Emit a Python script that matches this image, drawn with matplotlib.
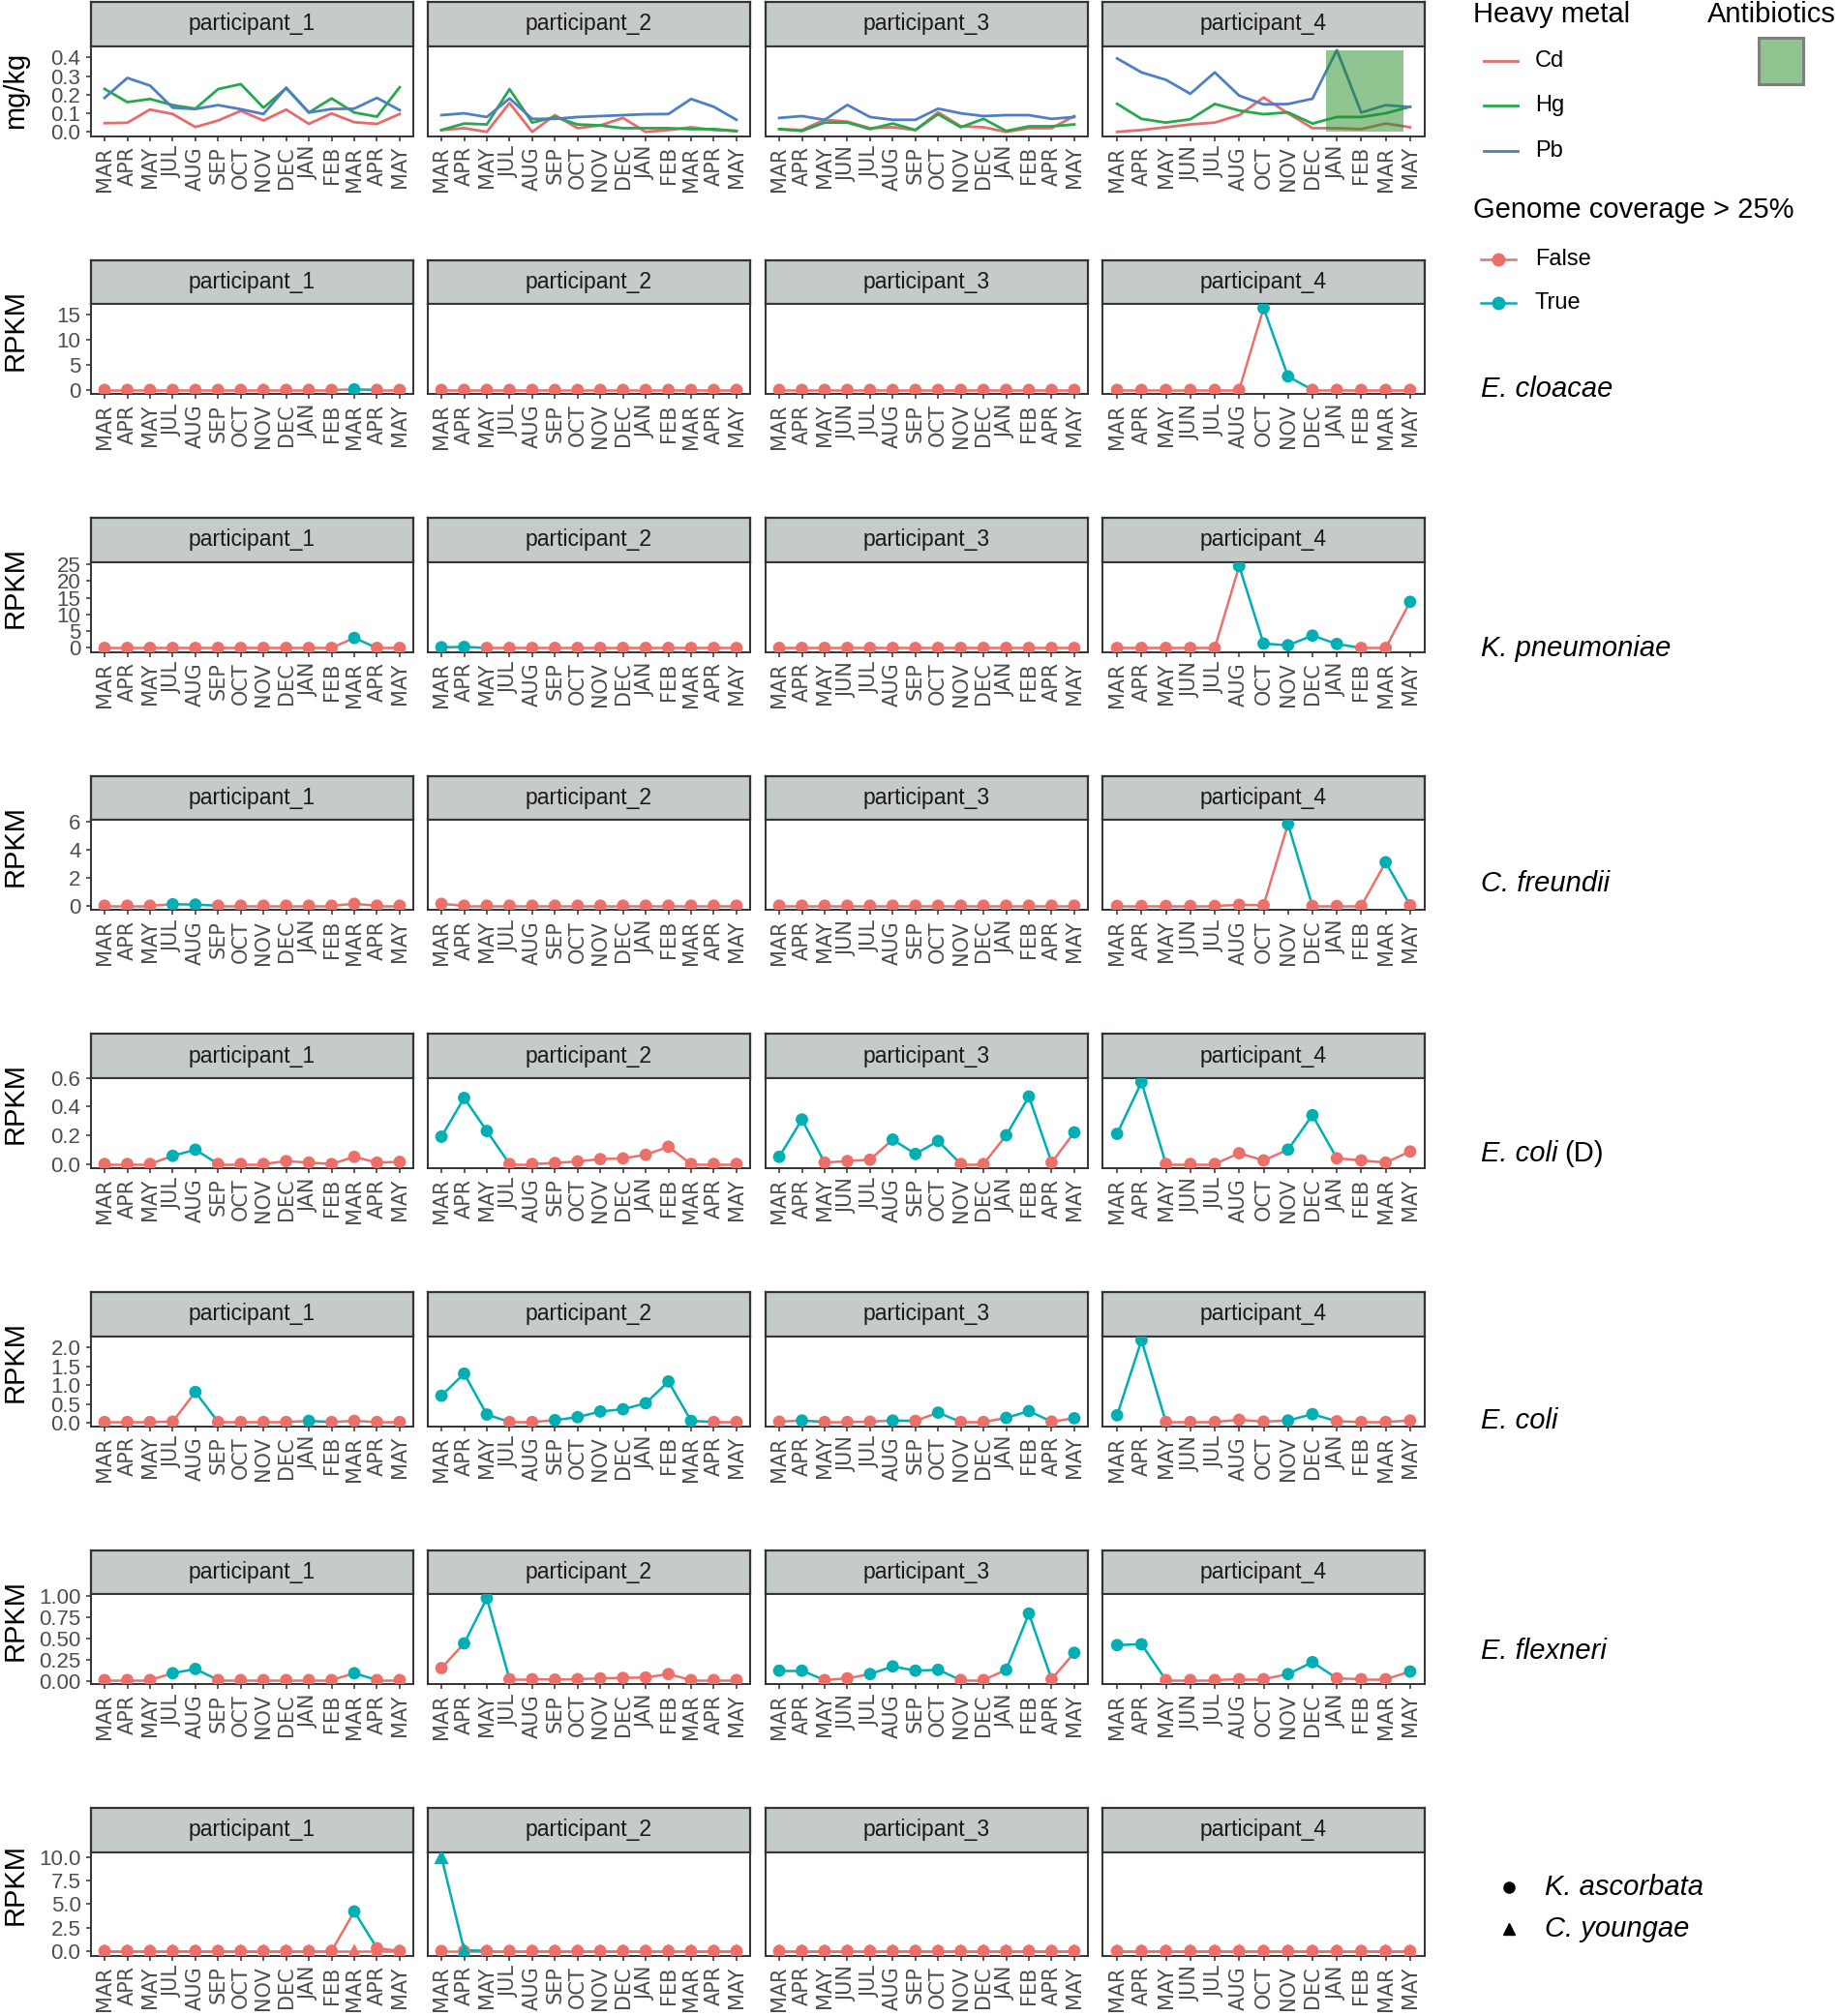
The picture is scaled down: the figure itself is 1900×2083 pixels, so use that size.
import numpy as np
import matplotlib
matplotlib.use("Agg")
import matplotlib.pyplot as plt
from matplotlib.patches import Rectangle
from matplotlib.lines import Line2D
from matplotlib.text import Annotation

plt.rcParams['font.family'] = ['Liberation Sans', 'DejaVu Sans']

# ---- data ----
participants = ['participant_1', 'participant_2', 'participant_3', 'participant_4']
months_p1 = ['MAR', 'APR', 'MAY', 'JUL', 'AUG', 'SEP', 'OCT', 'NOV', 'DEC', 'JAN', 'FEB', 'MAR', 'APR', 'MAY']
months_p2 = ['MAR', 'APR', 'MAY', 'JUL', 'AUG', 'SEP', 'OCT', 'NOV', 'DEC', 'JAN', 'FEB', 'MAR', 'APR', 'MAY']
months_p3 = ['MAR', 'APR', 'MAY', 'JUN', 'JUL', 'AUG', 'SEP', 'OCT', 'NOV', 'DEC', 'JAN', 'FEB', 'APR', 'MAY']
months_p4 = ['MAR', 'APR', 'MAY', 'JUN', 'JUL', 'AUG', 'OCT', 'NOV', 'DEC', 'JAN', 'FEB', 'MAR', 'MAY']
months = [months_p1, months_p2, months_p3, months_p4]

# heavy metals (mg/kg), one list per participant
cd = [[0.047, 0.049, 0.12, 0.096, 0.026, 0.061, 0.113, 0.061, 0.12, 0.043, 0.099, 0.052, 0.043, 0.096],
      [0.01, 0.02, 0.0, 0.155, 0.0, 0.09, 0.02, 0.035, 0.075, 0.0, 0.01, 0.025, 0.01, 0.005],
      [0.015, 0.01, 0.065, 0.055, 0.02, 0.025, 0.01, 0.105, 0.03, 0.025, 0.0, 0.02, 0.02, 0.085],
      [0.0, 0.01, 0.025, 0.04, 0.05, 0.09, 0.185, 0.10, 0.02, 0.02, 0.015, 0.045, 0.025]]
hg = [[0.231, 0.16, 0.177, 0.144, 0.125, 0.23, 0.257, 0.13, 0.235, 0.104, 0.18, 0.104, 0.082, 0.24],
      [0.01, 0.045, 0.04, 0.23, 0.05, 0.08, 0.04, 0.035, 0.02, 0.02, 0.02, 0.015, 0.015, 0.005],
      [0.015, 0.005, 0.05, 0.05, 0.015, 0.045, 0.01, 0.095, 0.025, 0.07, 0.005, 0.03, 0.03, 0.04],
      [0.151, 0.07, 0.05, 0.068, 0.15, 0.115, 0.095, 0.105, 0.045, 0.08, 0.08, 0.10, 0.135]]
pb = [[0.183, 0.29, 0.249, 0.13, 0.123, 0.144, 0.122, 0.096, 0.238, 0.104, 0.123, 0.125, 0.183, 0.117],
      [0.09, 0.10, 0.08, 0.18, 0.07, 0.07, 0.08, 0.085, 0.09, 0.095, 0.096, 0.177, 0.135, 0.065],
      [0.075, 0.085, 0.065, 0.145, 0.08, 0.065, 0.065, 0.125, 0.10, 0.085, 0.09, 0.09, 0.07, 0.08],
      [0.395, 0.32, 0.28, 0.205, 0.32, 0.195, 0.148, 0.15, 0.178, 0.44, 0.104, 0.144, 0.134]]
metal_names = ['Cd', 'Hg', 'Pb']
metal_colors = ['#E46C6A', '#26A84C', '#4F7EC4']
antibiotics_p4 = (8.55, 11.73)  # on participant_4's month axis

# RPKM rows: values per participant and genome coverage > 25% flags (T/F)
cloacae = [[0, 0, 0, 0, 0, 0, 0, 0, 0, 0, 0, 0.1, 0, 0],
           [0, 0, 0, 0, 0, 0, 0, 0, 0, 0, 0, 0, 0, 0],
           [0, 0, 0, 0, 0, 0, 0, 0, 0, 0, 0, 0, 0, 0],
           [0, 0, 0, 0, 0, 0, 16.3, 2.7, 0, 0, 0, 0, 0]]
cloacae_cov = ['FFFFFFFFFFFTFF', 'FFFFFFFFFFFFFF', 'FFFFFFFFFFFFFF', 'FFFFFFTTFFFFF']

pneumoniae = [[0, 0, 0, 0, 0, 0, 0, 0, 0, 0, 0, 3.0, 0, 0],
              [0.2, 0.3, 0, 0, 0, 0, 0, 0, 0, 0, 0, 0, 0, 0],
              [0, 0, 0, 0, 0, 0, 0, 0, 0, 0, 0, 0, 0, 0],
              [0, 0, 0, 0, 0, 24.5, 1.3, 0.8, 3.7, 1.2, 0, 0, 13.8]]
pneumoniae_cov = ['FFFFFFFFFFFTFF', 'TTFFFFFFFFFFFF', 'FFFFFFFFFFFFFF', 'FFFFFTTTTTFFT']

freundii = [[0.02, 0.02, 0.02, 0.12, 0.1, 0.02, 0.02, 0.02, 0.02, 0.02, 0.02, 0.15, 0.02, 0.02],
            [0.15, 0.02, 0.02, 0.02, 0.02, 0.02, 0.02, 0.02, 0.02, 0.02, 0.02, 0.02, 0.02, 0.02],
            [0.02, 0.02, 0.02, 0.02, 0.02, 0.02, 0.02, 0.02, 0.02, 0.02, 0.02, 0.02, 0.02, 0.02],
            [0, 0, 0, 0, 0, 0.08, 0.05, 5.8, 0, 0, 0, 3.1, 0.05]]
freundii_cov = ['FFFTTFFFFFFFFF', 'FFFFFFFFFFFFFF', 'FFFFFFFFFFFFFF', 'FFFFFFFTFFFTF']

coli_d = [[0.0, 0.0, 0.0, 0.057, 0.10, 0.0, 0.0, 0.0, 0.02, 0.01, 0.0, 0.05, 0.01, 0.015],
          [0.19, 0.46, 0.23, 0.0, 0.0, 0.007, 0.018, 0.034, 0.039, 0.064, 0.12, 0.0, 0.0, 0.0],
          [0.05, 0.31, 0.01, 0.02, 0.03, 0.17, 0.07, 0.16, 0.0, 0.0, 0.2, 0.47, 0.01, 0.22],
          [0.21, 0.57, 0.0, 0.0, 0.0, 0.075, 0.025, 0.10, 0.34, 0.04, 0.025, 0.01, 0.087]]
coli_d_cov = ['FFFTTFFFFFFFFF', 'TTTFFFFFFFFFFF', 'TTFFFTTTFFTTFT', 'TTFFFFFTTFFFF']

coli = [[0.02, 0.02, 0.02, 0.03, 0.82, 0.02, 0.02, 0.02, 0.02, 0.05, 0.02, 0.05, 0.02, 0.02],
        [0.72, 1.31, 0.22, 0.02, 0.02, 0.07, 0.15, 0.30, 0.36, 0.52, 1.10, 0.05, 0.02, 0.02],
        [0.03, 0.06, 0.02, 0.02, 0.03, 0.06, 0.05, 0.27, 0.02, 0.02, 0.13, 0.31, 0.03, 0.12],
        [0.2, 2.2, 0.02, 0.02, 0.02, 0.08, 0.03, 0.06, 0.23, 0.04, 0.02, 0.02, 0.06]]
coli_cov = ['FFFFTFFFFTFFFF', 'TTTFFTTTTTTTFF', 'FTFFFTFTFFTTFT', 'TTFFFFFTTFFFF']

flexneri = [[0.01, 0.01, 0.01, 0.09, 0.14, 0.01, 0.01, 0.01, 0.01, 0.01, 0.01, 0.09, 0.01, 0.01],
            [0.15, 0.44, 0.97, 0.02, 0.02, 0.015, 0.02, 0.03, 0.035, 0.04, 0.08, 0.01, 0.01, 0.01],
            [0.12, 0.12, 0.01, 0.03, 0.08, 0.17, 0.12, 0.13, 0.01, 0.01, 0.13, 0.79, 0.02, 0.33],
            [0.42, 0.43, 0.01, 0.01, 0.01, 0.02, 0.02, 0.08, 0.22, 0.03, 0.02, 0.02, 0.11]]
flexneri_cov = ['FFFTTFFFFFFTFF', 'FTTFFFFFFFFFFF', 'TTFFTTTTFFTTFT', 'TTFFFFFTTFFFT']

ascorbata = [[0, 0, 0, 0, 0, 0, 0, 0, 0, 0, 0, 4.2, 0.3, 0],
             [0, 0, 0, 0, 0, 0, 0, 0, 0, 0, 0, 0, 0, 0],
             [0, 0, 0, 0, 0, 0, 0, 0, 0, 0, 0, 0, 0, 0],
             [0, 0, 0, 0, 0, 0, 0, 0, 0, 0, 0, 0, 0]]
ascorbata_cov = ['FFFFFFFFFFFTFF', 'FFFFFFFFFFFFFF', 'FFFFFFFFFFFFFF', 'FFFFFFFFFFFFF']
youngae = [[0, 0, 0, 0, 0, 0, 0, 0, 0, 0, 0, 0, 0, 0],
           [10.0, 0.1, 0, 0, 0, 0, 0, 0, 0, 0, 0, 0, 0, 0],
           [0, 0, 0, 0, 0, 0, 0, 0, 0, 0, 0, 0, 0, 0],
           [0, 0, 0, 0, 0, 0, 0, 0, 0, 0, 0, 0, 0]]
youngae_cov = ['FFFFFFFFFFFFFF', 'TTFFFFFFFFFFFF', 'FFFFFFFFFFFFFF', 'FFFFFFFFFFFFF']

# rows: list of (values, coverage, marker) series, y ticks, tick labels
rpkm_rows = [
    ([(cloacae, cloacae_cov, 'o')], [0, 5, 10, 15], ['0', '5', '10', '15']),
    ([(pneumoniae, pneumoniae_cov, 'o')], [0, 5, 10, 15, 20, 25], ['0', '5', '10', '15', '20', '25']),
    ([(freundii, freundii_cov, 'o')], [0, 2, 4, 6], ['0', '2', '4', '6']),
    ([(coli_d, coli_d_cov, 'o')], [0, 0.2, 0.4, 0.6], ['0.0', '0.2', '0.4', '0.6']),
    ([(coli, coli_cov, 'o')], [0, 0.5, 1.0, 1.5, 2.0], ['0.0', '0.5', '1.0', '1.5', '2.0']),
    ([(flexneri, flexneri_cov, 'o')], [0, 0.25, 0.5, 0.75, 1.0], ['0.00', '0.25', '0.50', '0.75', '1.00']),
    ([(ascorbata, ascorbata_cov, 'o'), (youngae, youngae_cov, '^')], [0, 2.5, 5, 7.5, 10],
     ['0.0', '2.5', '5.0', '7.5', '10.0']),
]
col_false = '#EC7069'
col_true = '#00AFB3'

# ---- layout (pixels) ----
W, H = 1900, 2083
fig = plt.figure(figsize=(W / 100, H / 100), dpi=100)

panel_x = [(94, 427), (442, 775), (791, 1124), (1139, 1472)]
pitch = 266.6
strip_h = 45.5
dark = '#333333'
tick_col = '#4D4D4D'


def add_ax(x0, y0, x1, y1):
    return fig.add_axes([x0 / W, 1 - y1 / H, (x1 - x0) / W, (y1 - y0) / H])


def style_panel(ax, labels, first, yticks, yticklabels):
    n = len(labels)
    ax.set_xlim(-0.6, n - 1 + 0.6)
    ax.set_xticks(np.arange(n))
    ax.set_xticklabels(labels, rotation=90, ha='center', va='top',
                       fontsize=15, family='DejaVu Sans', color=tick_col)
    if first:
        ax.set_yticks(yticks)
        ax.set_yticklabels(yticklabels, fontsize=16, color=tick_col)
    else:
        ax.set_yticks([])
    ax.tick_params(axis='both', direction='out', length=3.6, width=1.1, color=dark, pad=4)
    for s in ax.spines.values():
        s.set_color(dark)
        s.set_linewidth(1.4)


def add_strip(x0, x1, top, text):
    sa = add_ax(x0, top, x1, top + strip_h)
    sa.set_facecolor('#C5CACA')
    sa.set_xticks([])
    sa.set_yticks([])
    for s in sa.spines.values():
        s.set_color(dark)
        s.set_linewidth(1.6)
    sa.text(0.5, 0.5, text, ha='center', va='center', fontsize=16.5, color='#1A1A1A',
            transform=sa.transAxes)


def ylims(all_vals):
    lo = min(min(v) for v in all_vals)
    hi = max(max(v) for v in all_vals)
    r = hi - lo
    return lo - 0.05 * r, hi + 0.05 * r


# ---- heavy metal row ----
top = 2
hm_lim = ylims(cd + hg + pb)
for p in range(4):
    x0, x1 = panel_x[p]
    add_strip(x0, x1, top, participants[p])
    ax = add_ax(x0, top + strip_h, x1, top + strip_h + 93)
    xs = np.arange(len(months[p]))
    for series, c in zip([cd, hg, pb], metal_colors):
        ax.plot(xs, series[p], color=c, lw=2.0, zorder=2)
    if p == 3:
        ymax = max(max(cd[3]), max(hg[3]), max(pb[3]))
        ax.add_patch(Rectangle((antibiotics_p4[0], 0), antibiotics_p4[1] - antibiotics_p4[0], ymax,
                               facecolor='forestgreen', alpha=0.5, edgecolor='none', zorder=3))
    ax.set_ylim(hm_lim)
    style_panel(ax, months[p], p == 0, [0, 0.1, 0.2, 0.3, 0.4], ['0.0', '0.1', '0.2', '0.3', '0.4'])
fig.text(16 / W, 1 - 93 / H, 'mg/kg', rotation=90, ha='center', va='center', fontsize=21)

# ---- RPKM rows ----
for k, (series_list, yt, ytl) in enumerate(rpkm_rows, start=1):
    top = 2 + pitch * k
    ph = 107 if k == 7 else 93
    allv = [v for s in series_list for v in s[0]]
    lim = ylims(allv)
    for p in range(4):
        x0, x1 = panel_x[p]
        add_strip(x0, x1, top, participants[p])
        ax = add_ax(x0, top + strip_h, x1, top + strip_h + ph)
        xs = np.arange(len(months[p]))
        # lines first, each segment coloured by its starting point
        for vals, cov, mk in series_list:
            v = vals[p]
            c = cov[p]
            for i in range(len(v) - 1):
                ax.plot(xs[i:i + 2], v[i:i + 2], color=col_true if c[i] == 'T' else col_false,
                        lw=1.8, solid_capstyle='round', zorder=2)
        for vals, cov, mk in series_list:
            v = vals[p]
            c = cov[p]
            cols = [col_true if f == 'T' else col_false for f in c]
            ax.scatter(xs, v, c=cols, marker=mk, s=85 if mk == 'o' else 120,
                       linewidths=0, zorder=3)
        ax.set_ylim(lim)
        style_panel(ax, months[p], p == 0, yt, ytl)
    yc = top + strip_h + ph / 2 - 20
    fig.text(16 / W, 1 - yc / H, 'RPKM', rotation=90, ha='center', va='center', fontsize=21)

# ---- legends ----
fig.text(1522 / W, 1 - 15 / H, 'Heavy metal', ha='left', va='center', fontsize=21)
for name, c, y in zip(metal_names, metal_colors, [63, 109, 156]):
    fig.add_artist(Line2D([1533 / W, 1568 / W], [1 - y / H, 1 - y / H], color=c, lw=2.0))
    fig.text(1586 / W, 1 - y / H, name, ha='left', va='center', fontsize=17)

fig.text(1764 / W, 1 - 15 / H, 'Antibiotics', ha='left', va='center', fontsize=21)
fig.add_artist(Rectangle((1817 / W, 1 - 87 / H), 46 / W, 48 / H, transform=fig.transFigure,
                         facecolor=(0.133, 0.545, 0.133, 0.5), edgecolor='#7F7F7F', lw=2.2))

fig.text(1522 / W, 1 - 217 / H, 'Genome coverage > 25%', ha='left', va='center', fontsize=21)
for lab, c, y in zip(['False', 'True'], [col_false, col_true], [268, 313]):
    fig.add_artist(Line2D([1530 / W, 1566 / W], [1 - y / H, 1 - y / H], color=c, lw=1.8))
    fig.add_artist(Line2D([1548 / W], [1 - y / H], color=c, marker='o', ms=9, ls='none'))
    fig.text(1586 / W, 1 - y / H, lab, ha='left', va='center', fontsize=17)

species_labels = [('E. cloacae', 402), ('K. pneumoniae', 670), ('C. freundii', 913),
                  ('E. coli', 1192), ('E. coli', 1468), ('E. flexneri', 1706)]
for i, (name, y) in enumerate(species_labels):
    t = fig.text(1530 / W, 1 - y / H, name, ha='left', va='center', fontsize=21, style='italic')
    if i == 3:
        ann = Annotation('(D)', xy=(1, 0), xycoords=t, xytext=(5, 0), textcoords='offset points',
                         ha='left', va='bottom', fontsize=21)
        fig.add_artist(ann)

for name, mk, y in [('K. ascorbata', 'o', 1950), ('C. youngae', '^', 1993)]:
    fig.add_artist(Line2D([1559 / W], [1 - y / H], color='black', marker=mk, ms=8, ls='none'))
    fig.text(1596 / W, 1 - y / H, name, ha='left', va='center', fontsize=21, style='italic')

fig.savefig('out.png', dpi=100, facecolor='white')
